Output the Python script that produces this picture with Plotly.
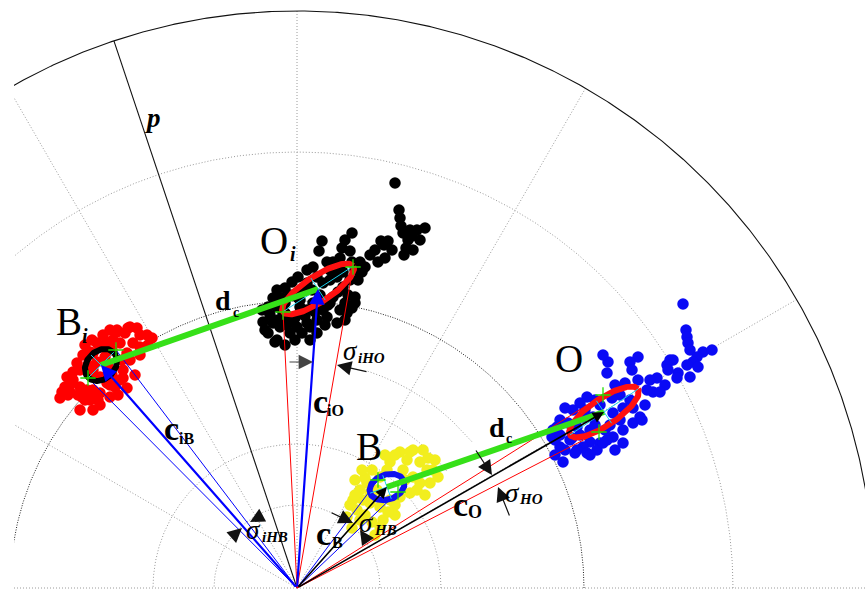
import numpy as np
import plotly.graph_objects as go

# ---------------- polar frame (radius in plot units, angles in degrees) ----------------
GRID_RINGS = [83, 144, 436]
# partial range arcs: (radius, start angle, end angle)
RANGE_ARCS = [(190, 38, 64), (228, 40, 72)]
MID_RING = 287
OUTER_RING = 577
SPOKES_DEG = [0, 30, 60, 90, 120, 150, 180]
P_AXIS_DEG = 108.5

# ---------------- sample clouds (x, y) ----------------
OI_X = [98, 102, 103, 104, 106, 111, 115, 120, 128, 109, 107, 95, 91, 87, 84, 81, 73, 68, 55, 48,
        45, 53, 63, 25, 22, 30, 36, 43, 55, 33, 16, 10, 1, -5, -12, -20, -24, -29, -20, -14,
        -34, -24, -29, -17, -7, 0, 5, -7, 13, 20, 30, 40, 43, 33, 26, 36, 48, 58, 46, 53,
        16, 10, 3, 0, 6, 10, 20, 26, 33, 40, 46, 40, 10, 20, -12, -22, -12, 3, 31, 50,
        58, -20, -35, -8, 23, 15, -27, -19, -10, -2, 8, 18, 25, 41, 51, 61,
        65, 58, 3, -7, -15, 13, -2, -12, -32, 28, 48, 55, 78, 88, 113, 123, 116]
OI_Y = [405, 378, 370, 362, 355, 348, 352, 358, 360, 340, 333, 338, 347, 343, 347, 326, 333, 321, 355, 348,
        340, 337, 326, 347, 337, 326, 326, 330, 326, 318, 321, 318, 311, 306, 300, 298, 290, 281, 281, 275,
        266, 265, 255, 261, 266, 261, 255, 255, 261, 268, 271, 265, 278, 285, 278, 291, 285, 291, 301, 308,
        285, 278, 281, 291, 298, 305, 311, 305, 308, 311, 316, 318, 265, 255, 285, 246, 275, 275, 283, 275,
        285, 248, 278, 270, 293, 298, 273, 268, 263, 270, 272, 276, 288, 296, 293, 308,
        316, 318, 288, 293, 290, 248, 248, 243, 258, 263, 268, 280, 338, 330, 358, 348, 338]

BI_X = [-237, -217, -207, -204, -225, -232, -230, -224, -220, -214, -207, -200, -194, -180, -172, -167,
        -160, -150, -149, -157, -164, -170, -175, -174, -177, -182, -190, -197, -204, -210, -217, -219,
        -212, -205, -199, -170, -174, -185, -197, -189, -204, -209, -200, -192, -185, -195, -204, -217,
        -224, -177, -184, -190, -215, -187, -169, -180, -235, -229, -207, -187, -167, -157, -162, -227,
        -179, -145, -212, -205, -187, -157, -197]
BI_Y = [190, 178, 188, 178, 205, 201, 211, 216, 225, 233, 236, 245, 253, 256, 255, 261,
        260, 253, 243, 241, 245, 235, 228, 218, 208, 201, 205, 195, 198, 198, 201, 193,
        188, 191, 188, 200, 210, 213, 211, 221, 218, 223, 226, 231, 238, 241, 235, 218,
        208, 245, 248, 246, 191, 191, 260, 258, 196, 193, 213, 203, 228, 233, 213, 196,
        193, 250, 243, 248, 258, 253, 183]

B_X = [103, 116, 126, 138, 141, 123, 110, 93, 90, 83, 70, 63, 56, 60, 50, 66, 73, 83, 86, 83, 93,
       103, 113, 120, 123, 116, 130, 106, 80, 73, 113, 98, 68, 75, 133, 128, 58, 53, 98, 108, 68, 75,
       58, 65, 88, 131, 136, 98, 91, 63, 55, 78]
B_Y = [136, 138, 138, 128, 111, 126, 128, 126, 118, 111, 105, 98, 88, 78, 71, 88, 85, 81, 68, 61, 88,
       91, 95, 98, 105, 111, 118, 118, 98, 95, 136, 133, 110, 118, 105, 93, 93, 83, 83, 108, 73, 66,
       108, 118, 133, 130, 118, 73, 76, 68, 60, 53]

O_X = [386, 389, 390, 391, 393, 406, 415, 400, 396, 401, 390, 393, 381, 380, 373, 376, 370, 371, 360, 368,
       356, 350, 341, 333, 335, 341, 311, 310, 318, 328, 298, 290, 283, 276, 268, 263, 271, 280, 286, 296,
       316, 326, 336, 343, 336, 326, 316, 310, 303, 293, 286, 280, 290, 300, 326, 318, 268, 263, 258, 256,
       258, 266, 278, 293, 306, 345, 260, 255, 323, 303, 313, 293, 275, 288, 298, 308, 323, 333, 348,
       353, 315, 273, 283, 263, 306, 363]
O_Y = [284, 258, 251, 245, 238, 236, 238, 231, 226, 221, 223, 211, 215, 210, 228, 228, 223, 218, 210, 203,
       196, 198, 231, 226, 218, 208, 226, 215, 203, 205, 188, 191, 185, 178, 180, 168, 165, 161, 171, 171,
       175, 180, 180, 171, 165, 158, 151, 148, 145, 146, 141, 138, 135, 138, 145, 138, 138, 141, 148, 158,
       133, 126, 135, 133, 145, 168, 161, 151, 193, 183, 163, 158, 150, 178, 163, 158, 168, 188, 183,
       208, 190, 148, 153, 153, 233, 196]

# ---------------- fitted summaries ----------------
CENTERS = {"Bi": (-196, 223), "Oi": (21, 299), "B": (90, 101), "O": (307, 176)}
# (semi-major, semi-minor, orientation in degrees)
ELLIPSES = {"Bi": (18, 14, 45), "Oi": (42, 13, 33), "B": (18, 12.5, 20), "O": (41, 13.5, 34)}
SIGMA_PTS = {"Bi": [(-209, 210), (-181, 238)], "Oi": [(-14, 276), (56, 321)],
             "B": [(81, 108), (101, 96)], "O": [(306, 193), (302, 156)]}

CLOUD_COLORS = {"Bi": "#ff0000", "Oi": "#000000", "B": "#f2ee1e", "O": "#0a0af5"}
ELLIPSE_COLORS = {"Bi": "#000000", "Oi": "#ff1010", "B": "#1010f0", "O": "#ff1010"}
SIGMA_LINE_COLORS = {"Bi": "#0000ff", "Oi": "#ff0000", "B": "#0000ff", "O": "#ff0000"}
VECTOR_COLORS = {"Bi": "#0000ff", "Oi": "#0000ff", "B": "#000000", "O": "#000000"}

SERIF = "Liberation Serif"

fig = go.Figure()


def add_line(xs, ys, color, width, dash="solid"):
    fig.add_trace(go.Scatter(x=xs, y=ys, mode="lines", hoverinfo="skip",
                             line=dict(color=color, width=width, dash=dash)))


def arc_xy(r, a0, a1):
    th = np.radians(np.linspace(a0, a1, 721))
    return r * np.cos(th), r * np.sin(th)


# grid rings and spokes
for r in GRID_RINGS:
    add_line(*arc_xy(r, 0, 180), "#9a9a9a", 1, "1px,2px")
for (r, a0, a1) in RANGE_ARCS:
    add_line(*arc_xy(r, a0, a1), "#9a9a9a", 1, "1px,2px")
for a in SPOKES_DEG:
    t = np.radians(a)
    add_line([0, OUTER_RING * np.cos(t)], [0, OUTER_RING * np.sin(t)], "#9a9a9a", 1, "1px,2px")
add_line(*arc_xy(MID_RING, 0, 180), "#222222", 1, "1px,1.5px")
add_line(*arc_xy(OUTER_RING, 0, 180), "#111111", 1.1)
tp = np.radians(P_AXIS_DEG)
add_line([0, OUTER_RING * np.cos(tp)], [0, OUTER_RING * np.sin(tp)], "#111111", 1.1)

# sample clouds
clouds = {"Bi": (BI_X, BI_Y), "Oi": (OI_X, OI_Y), "B": (B_X, B_Y), "O": (O_X, O_Y)}
for key, (xs, ys) in clouds.items():
    fig.add_trace(go.Scatter(x=xs, y=ys, mode="markers", hoverinfo="skip",
                             marker=dict(size=11.5, color=CLOUD_COLORS[key], line=dict(width=0))))

# angular spread lines from the pole
for key, pts in SIGMA_PTS.items():
    for (px, py) in pts:
        add_line([0, px], [0, py], SIGMA_LINE_COLORS[key], 1)

# covariance ellipses and their axes
t = np.linspace(0, 2 * np.pi, 181)
for key, (a, b, ang) in ELLIPSES.items():
    cx, cy = CENTERS[key]
    ph = np.radians(ang)
    ex = cx + a * np.cos(t) * np.cos(ph) - b * np.sin(t) * np.sin(ph)
    ey = cy + a * np.cos(t) * np.sin(ph) + b * np.sin(t) * np.cos(ph)
    add_line(ex, ey, ELLIPSE_COLORS[key], 6)
for key, (a, b, ang) in ELLIPSES.items():
    cx, cy = CENTERS[key]
    ph = np.radians(ang)
    ux, uy = np.cos(ph), np.sin(ph)
    add_line([cx - a * ux, cx + a * ux, None, cx + b * uy, cx - b * uy],
             [cy - a * uy, cy + a * uy, None, cy - b * ux, cy + b * ux], "#18d0ee", 1)

# centre-to-centre distances
for k0, k1 in [("Bi", "Oi"), ("B", "O")]:
    add_line([CENTERS[k0][0], CENTERS[k1][0]], [CENTERS[k0][1], CENTERS[k1][1]], "#36e018", 6)

# spread end points
gx = [p[0] for pts in SIGMA_PTS.values() for p in pts]
gy = [p[1] for pts in SIGMA_PTS.values() for p in pts]
fig.add_trace(go.Scatter(x=gx, y=gy, mode="markers", hoverinfo="skip",
                         marker=dict(symbol="cross-thin", size=11, line=dict(color="#22dd00", width=1.3))))

annotations = []

# mean vectors from the pole
for key, (cx, cy) in CENTERS.items():
    w = 2.2 if VECTOR_COLORS[key] == "#0000ff" else 1.6
    annotations.append(dict(x=cx, y=cy, ax=0, ay=0, xref="x", yref="y", axref="x", ayref="y",
                            text="", showarrow=True, arrowhead=2, arrowsize=1.4, arrowwidth=w,
                            arrowcolor=VECTOR_COLORS[key], standoff=0))

# spread indicator arrows (tail -> head)
SIGMA_ARROWS = [(-9, 226, 16, 226, "#444444"), (71, 216, 40, 223, "#111111"),
                (-34, 73, -47, 66, "#111111"), (-65, 51, -55, 60, "#111111"),
                (33, 76, 56, 65, "#111111"), (71, 46, 63, 58, "#111111"),
                (178, 139, 195, 113, "#111111"), (213, 71, 201, 101, "#111111")]
for (tx, ty, hx, hy, col) in SIGMA_ARROWS:
    annotations.append(dict(x=hx, y=hy, ax=tx, ay=ty, xref="x", yref="y", axref="x", ayref="y",
                            text="", showarrow=True, arrowhead=2, arrowsize=2.4, arrowwidth=1.2,
                            arrowcolor=col, standoff=0))

LABELS = [
    ("<b><i>p</i></b>", -144, 470, 27),
    ("O", -23, 348, 39), ("<b><i>i</i></b>", -4, 334, 20),
    ("B", -228, 267, 39), ("<b><i>i</i></b>", -212, 252, 20),
    ("B", 72, 142, 39),
    ("O", 272, 230, 39),
    ("<b>d</b>", -74, 288, 28), ("<b>c</b>", -61, 276, 14),
    ("<b>d</b>", 200, 161, 28), ("<b>c</b>", 212, 150, 14),
    ("<b>c</b>", -126, 160, 34), ("<b>iB</b>", -111, 150, 16),
    ("<b>c</b>", 23, 187, 34), ("<b>iO</b>", 38, 178, 16),
    ("<b>c</b>", 26, 55, 34), ("<b>B</b>", 40, 46, 16),
    ("<b>c</b>", 163, 84, 34), ("<b>O</b>", 178, 76, 18),
    ("<i>σ</i>", 53, 237, 27), ("<b><i>iHO</i></b>", 74, 230, 15),
    ("<i>σ</i>", -44, 58, 27), ("<b><i>iHB</i></b>", -22, 51, 15),
    ("<i>σ</i>", 69, 65, 27), ("<b><i>HB</i></b>", 88, 58, 15),
    ("<i>σ</i>", 215, 95, 27), ("<b><i>HO</i></b>", 234, 89, 15),
]
for (txt, x, y, size) in LABELS:
    annotations.append(dict(x=x, y=y, xref="x", yref="y", text=txt, showarrow=False,
                            xanchor="center", yanchor="middle",
                            font=dict(family=SERIF, size=size, color="#000000")))

fig.update_layout(
    width=865, height=591,
    margin=dict(l=14, r=0, t=0, b=0),
    paper_bgcolor="white", plot_bgcolor="white",
    showlegend=False,
    xaxis=dict(range=[-283, 568], visible=False, showgrid=False, zeroline=False, fixedrange=True),
    yaxis=dict(range=[-3, 588], visible=False, showgrid=False, zeroline=False, fixedrange=True),
    annotations=annotations,
)

fig.write_html("out.html")
